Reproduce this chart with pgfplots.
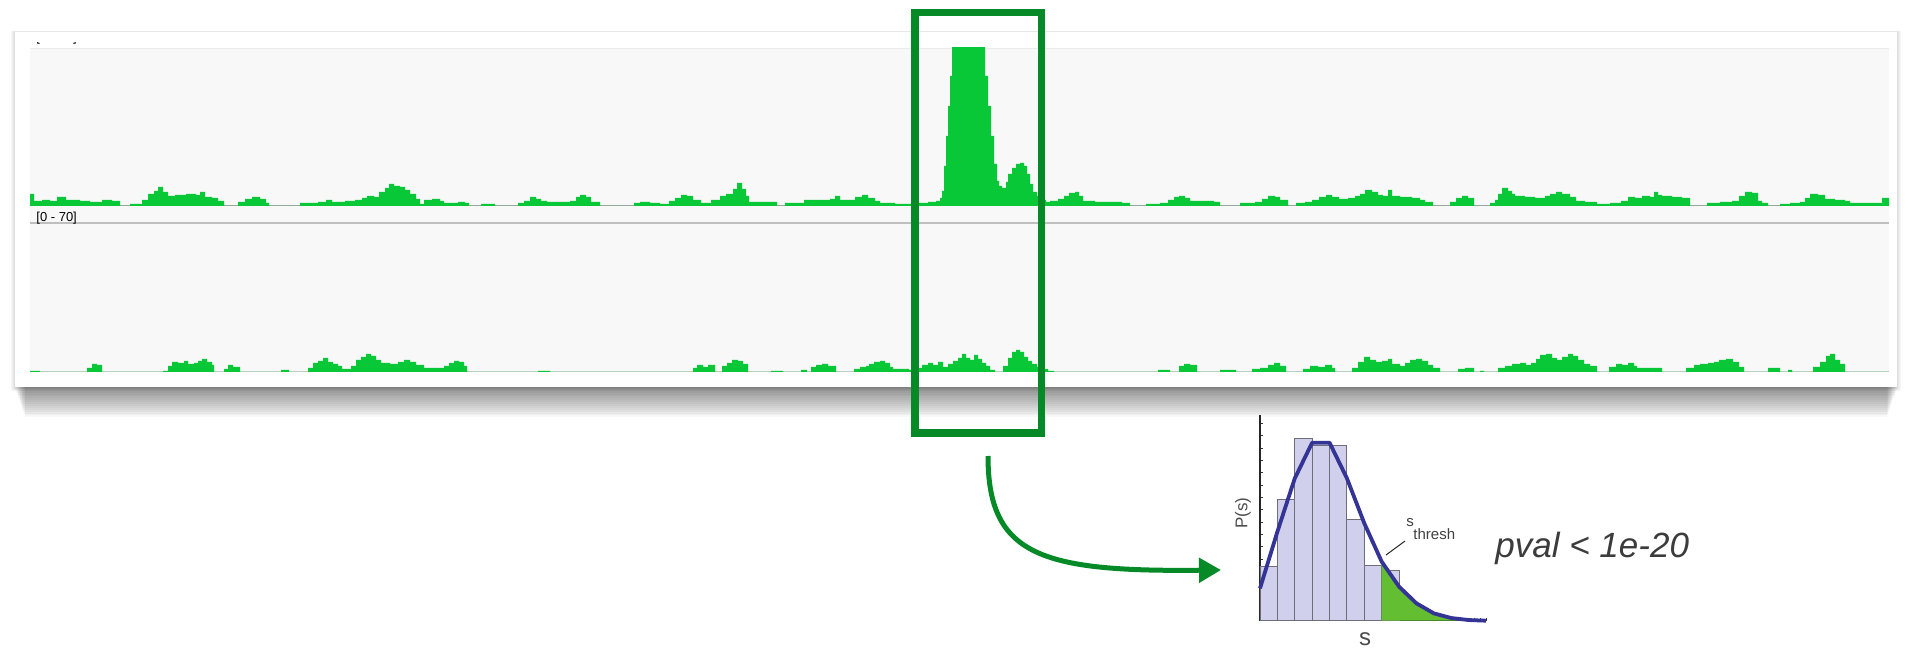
\documentclass[border=0pt]{standalone}
\usepackage{fontspec}
\setmainfont{Liberation Sans}
\usepackage{pgfplots}
\usepackage{pgfplotstable}
\pgfplotsset{compat=1.18}
\usetikzlibrary{arrows.meta}
\definecolor{tgreen}{RGB}{8,200,56}
\definecolor{boxgreen}{RGB}{6,138,40}
\definecolor{bgtrack}{RGB}{248,248,248}
\definecolor{barfill}{RGB}{208,208,236}
\definecolor{bargray}{RGB}{110,110,120}
\definecolor{curveblue}{RGB}{52,52,150}
\definecolor{shgreen}{RGB}{100,190,50}
\definecolor{txtgray}{RGB}{60,60,60}

\pgfplotstableread{
x y
30 12
34 5
42 6
50 5
57 9
66 6
80 5
90 4
102 6
112 5
120 0
130 2
142 6
148 12
154 15
158 19
163 14
168 10
175 11
186 12
196 11
200 14
205 9
212 8
218 5
224 0
238 4
245 7
252 9
260 7
266 3
269 0
300 3
318 4
326 6
332 4
345 5
355 6
362 8
367 10
374 9
379 14
385 18
389 22
394 20
400 19
405 16
410 12
416 7
420 2
424 6
432 7
440 5
444 3
458 4
465 3
469 0
481 2
495 0
518 3
524 5
530 9
536 7
541 5
547 4
560 4
570 5
576 9
580 11
586 9
591 4
600 0
634 3
640 4
650 3
660 2
669 5
675 8
681 11
687 10
693 6
701 3
711 6
720 10
726 12
733 17
737 23
742 17
746 10
749 4
760 4
777 0
785 3
798 3
804 6
820 6
830 7
835 10
840 6
850 6
855 9
862 11
868 8
875 5
880 3
895 2
910 2
918 3
928 4
936 5
940 8
942 15
944 40
946 70
948 100
950 130
952 200
985 130
988 100
991 70
994 42
997 25
999 20
1002 18
1006 24
1008 32
1012 38
1016 42
1020 43
1024 40
1027 32
1030 22
1033 14
1037 10
1041 6
1046 4
1050 5
1058 7
1064 10
1069 13
1075 14
1079 10
1083 5
1095 4
1110 4
1122 3
1130 0
1146 2
1160 3
1168 6
1174 9
1179 10
1185 8
1190 5
1205 5
1214 4
1220 0
1240 3
1255 4
1262 7
1268 10
1275 9
1280 6
1288 0
1296 3
1305 4
1312 6
1319 9
1326 11
1332 9
1339 7
1348 8
1355 10
1360 12
1365 16
1372 14
1378 11
1383 10
1388 16
1392 10
1400 9
1412 8
1420 6
1425 4
1433 0
1450 4
1456 8
1462 10
1468 8
1474 0
1490 3
1495 6
1498 12
1502 18
1508 15
1512 12
1515 10
1525 9
1535 8
1545 10
1550 12
1556 14
1562 12
1570 9
1576 5
1585 4
1597 2
1610 3
1621 5
1628 9
1635 8
1642 10
1650 9
1654 14
1658 11
1662 10
1672 9
1682 8
1690 0
1707 3
1720 4
1732 5
1739 10
1745 14
1752 13
1758 5
1762 3
1768 0
1780 2
1790 3
1800 4
1805 8
1810 12
1818 11
1825 7
1835 6
1845 5
1850 3
1870 3
1882 8
1889 8
}\trackA

\pgfplotstableread{
x y
30 1
40 0
87 4
92 8
97 7
102 0
163 1
168 6
172 10
178 9
184 11
188 8
194 9
198 11
202 13
207 10
212 7
214 0
224 3
228 7
233 5
240 0
281 2
289 0
308 4
313 9
318 11
323 14
328 10
333 8
338 6
342 3
351 6
356 12
361 15
366 18
371 16
376 12
381 9
390 8
398 10
404 12
410 10
416 7
424 4
438 4
444 6
449 9
454 11
459 10
464 6
467 0
538 1
550 0
693 4
697 7
703 5
708 7
715 0
722 6
727 9
732 12
738 11
743 8
748 0
771 1
783 0
801 2
807 0
811 5
816 7
822 8
828 6
836 0
854 3
860 5
866 6
869 8
874 10
880 11
885 9
890 5
893 3
909 2
918 4
922 7
928 9
933 7
938 10
943 5
948 8
953 11
958 14
962 18
966 14
970 12
974 17
978 13
982 9
986 6
990 2
995 0
1003 6
1008 14
1012 20
1016 22
1020 20
1024 15
1028 11
1032 8
1037 5
1041 3
1048 1
1054 0
1158 2
1170 0
1179 6
1184 8
1190 7
1197 0
1220 2
1236 0
1252 3
1260 4
1268 7
1274 9
1280 6
1286 0
1303 3
1310 6
1318 5
1325 7
1332 4
1335 0
1352 4
1358 10
1364 15
1370 12
1376 10
1382 11
1388 13
1392 8
1400 6
1405 9
1410 12
1416 13
1422 11
1428 7
1433 4
1440 0
1458 3
1465 4
1474 0
1480 1
1484 0
1498 4
1505 6
1512 8
1520 9
1526 7
1531 9
1536 13
1540 17
1546 18
1552 14
1557 12
1562 15
1568 18
1573 16
1578 12
1584 8
1590 6
1597 0
1609 5
1616 8
1622 7
1628 9
1634 6
1637 4
1650 4
1662 0
1686 4
1694 7
1700 8
1708 9
1714 10
1719 12
1726 13
1733 10
1739 5
1744 0
1768 4
1780 0
1788 2
1792 0
1813 5
1820 10
1826 16
1830 18
1835 12
1840 8
1845 0
1889 0
}\trackB

\pgfplotsset{trackstyle/.style={scale only axis, hide axis, xmin=30, xmax=1889, ymin=0,
  anchor=south west, width=929.5pt}}

\begin{document}
\begin{tikzpicture}[x=0.5pt,y=0.5pt]
\useasboundingbox (0,0) rectangle (1910,648);
\fill[white] (0,0) rectangle (1910,648);
% card shadow (soft gradient)
\foreach \i in {1,...,16}{
  \fill[black,opacity=0.03] (14+\i*0.7,261-\i*1.9) rectangle (1898-\i*0.7,600);
}
\foreach \i in {1,...,4}{
  \fill[black,opacity=0.03] (15-\i,261-\i) rectangle (1897+\i,616+\i*0.3);
}
% card
\fill[white] (15,261) rectangle (1897,616);
% track background
\fill[bgtrack] (30,276) rectangle (1889,600);
\draw[black!8,line width=0.4pt] (30,600) -- (1889,600);
% lines
\draw[black!35,line width=0.5pt] (30,442) -- (1889,442);
\draw[black!25,line width=1pt] (30,425) -- (1889,425);
\draw[black!18,line width=0.5pt] (30,276) -- (1889,276);

% partial top label (cropped)
\begin{scope}
\clip (30,599) rectangle (100,605);
\node[anchor=base west, inner sep=0pt, font=\fontsize{6.5}{7}\selectfont] at (36,606) {[0 - 70]};
\end{scope}
% second track label
\node[anchor=west, inner sep=0pt, font=\fontsize{6.5}{7}\selectfont] at (36,430) {[0 - 70]};

% track 1
\begin{axis}[trackstyle, at={(15pt,221pt)}, height=79pt, ymax=158]
\addplot[const plot, fill=tgreen, draw=none] table {\trackA} \closedcycle;
\end{axis}
% track 2
\begin{axis}[trackstyle, at={(15pt,138pt)}, height=73.5pt, ymax=147]
\addplot[const plot, fill=tgreen, draw=none] table {\trackB} \closedcycle;
\end{axis}

% green box
\draw[boxgreen, line width=3.75pt] (914.75,214.75) rectangle (1041.25,635.25);
% arrow
\draw[boxgreen, line width=2.5pt, -{Triangle[length=11pt,width=12pt]}]
  (988,192) .. controls (988,93) and (1040,76) .. (1221,78);

% inset histogram
\begin{axis}[at={(630pt,13.65pt)}, anchor=south west, scale only axis,
  width=113pt, height=102.85pt,
  xmin=0, xmax=13.0, ymin=0, ymax=6.17,
  axis x line=bottom, axis y line=left,
  axis line style={-, line width=0.55pt, black!85},
  xtick={0,0.3333,...,12.9}, ytick={0,0.37,...,6.1},
  xticklabels={}, yticklabels={},
  tick style={black!80, line width=0.3pt}, major tick length=1.6pt, tick align=inside,
  clip=false]
\addplot[ybar interval, fill=barfill, draw=bargray, line width=0.5pt]
  coordinates {(0,1.62) (1,3.65) (2,5.47) (3,5.25) (4,5.25) (5,3.04) (6,1.67) (7,1.52) (8,1.52)};
\addplot[fill=shgreen, draw=none]
  coordinates {(7,1.77) (8,1.02) (9,0.52) (10,0.22) (11,0.08) (12,0.02) (13.0,0)} \closedcycle;
\addplot[curveblue, line width=1.9pt, line join=round]
  coordinates {(0,0.97) (1,2.67) (2,4.27) (3,5.34) (4,5.34) (5,4.27) (6,2.92) (7,1.77) (8,1.02) (9,0.52) (10,0.22) (11,0.08) (12,0.02) (13.0,0)};
\end{axis}

% inset labels
\node[rotate=90, inner sep=0pt, text=black!70, font=\fontsize{8.5}{9}\selectfont] at (1243,135) {P(s)};
\node[inner sep=0pt, text=black!70, font=\fontsize{12}{12}\selectfont] at (1365,9) {s};
\node[inner sep=0pt, text=black!75, font=\fontsize{7.5}{8}\selectfont] at (1410,125) {s};
\node[anchor=west, inner sep=0pt, text=black!75, font=\fontsize{7.5}{8}\selectfont] at (1413,114) {thresh};
\draw[black!85, line width=0.5pt] (1386,93) -- (1405,107);
% p-value
\node[anchor=west, inner sep=0pt, text=txtgray, font=\fontsize{17.5}{20}\selectfont\itshape] at (1495,100) {pval < 1e-20};
\end{tikzpicture}
\end{document}
